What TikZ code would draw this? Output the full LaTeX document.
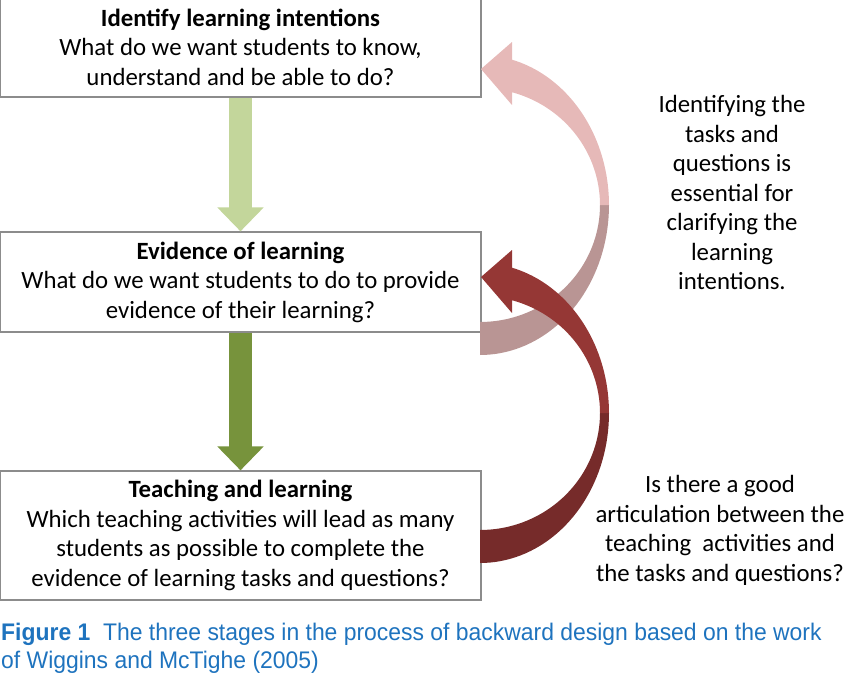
\documentclass[tikz,border=0pt]{standalone}
\usepackage{fontspec}
\setmainfont{Carlito}
\newfontfamily\capfont[FakeStretch=0.955]{Liberation Sans}
\usepackage{tikz}
\usetikzlibrary{positioning, arrows.meta, calc}
\definecolor{stageGray}{HTML}{8C8C8C}
\definecolor{greenLight}{HTML}{C3D69B}
\definecolor{greenDark}{HTML}{77933C}
\definecolor{pinkFront}{HTML}{E6B9B8}
\definecolor{pinkBack}{HTML}{B99594}
\definecolor{redFront}{HTML}{953735}
\definecolor{redBack}{HTML}{762B2A}
\definecolor{capBlue}{HTML}{1E73BE}

\begin{document}
\begin{tikzpicture}[x=1pt, y=-1pt,
        every node/.style={font=\fontsize{24.8}{29.5}\selectfont},
        stagebox/.style={rectangle, draw=stageGray, line width=1.2pt, fill=white,
                         minimum width=481pt, align=center, inner sep=0pt},
        downarr/.style={line width=23pt, -{Triangle[width=45pt, length=24pt]}},
        note/.style={align=center, inner sep=0pt},
      ]
        \useasboundingbox (0,0) rectangle (846,672);

        % Stages
        \node[stagebox, minimum height=100pt] (intent) at (240.5,47)
          {\textbf{Identify learning intentions}\\What do we want students to know,\\understand and be able to do?};
        \node[stagebox, minimum height=100pt] (evid) at (240.5,282)
          {\textbf{Evidence of learning}\\What do we want students to do to provide\\evidence of their learning?};
        \node[stagebox, minimum height=129pt] (teach) at (240.5,535.5)
          {\textbf{Teaching and learning}\\Which teaching activities will lead as many\\students as possible to complete the\\evidence of learning tasks and questions?};

        % Straight arrows between stages
        \draw[downarr, greenLight] (intent.south) -- (evid.north);
        \draw[downarr, greenDark] (evid.south) -- (teach.north);

        % Curved feedback arrows (back half darker)
        \foreach \cy/\front/\back in {205/pinkFront/pinkBack, 413/redFront/redBack}{
          \fill[\back] plot[domain=0:-90, samples=40] ({480+129*cos(\x)},{\cy-150*sin(\x)})
            -- plot[domain=-90:0, samples=40] ({480+120*cos(\x)},{\cy-117*sin(\x)}) -- cycle;
          \fill[\front] (512,\cy-163) -- (481,\cy-136) -- (512,\cy-100)
            -- plot[domain=74.5:0, samples=40] ({480+120*cos(\x)},{\cy-117*sin(\x)})
            -- plot[domain=0:75.6, samples=40] ({480+129*cos(\x)},{\cy-150*sin(\x)}) -- cycle;
        }

        % Side notes
        \node[note] (noteTop) at (732,192.5)
          {Identifying the\\tasks and\\questions is\\essential for\\clarifying the\\learning\\intentions.};
        \node[note] (noteBot) at (720,530.5)
          {Is there a good\\articulation between the\\teaching\ \ activities and\\the tasks and questions?};

        % Caption
        \node[anchor=north west, align=left, inner sep=0pt,
              font=\capfont\fontsize{24}{28}\selectfont\color{capBlue}] (caption) at (1,623)
          {\textbf{Figure 1}\ \ The three stages in the process of backward design based on the work\\of Wiggins and McTighe (2005)};
\end{tikzpicture}
\end{document}
